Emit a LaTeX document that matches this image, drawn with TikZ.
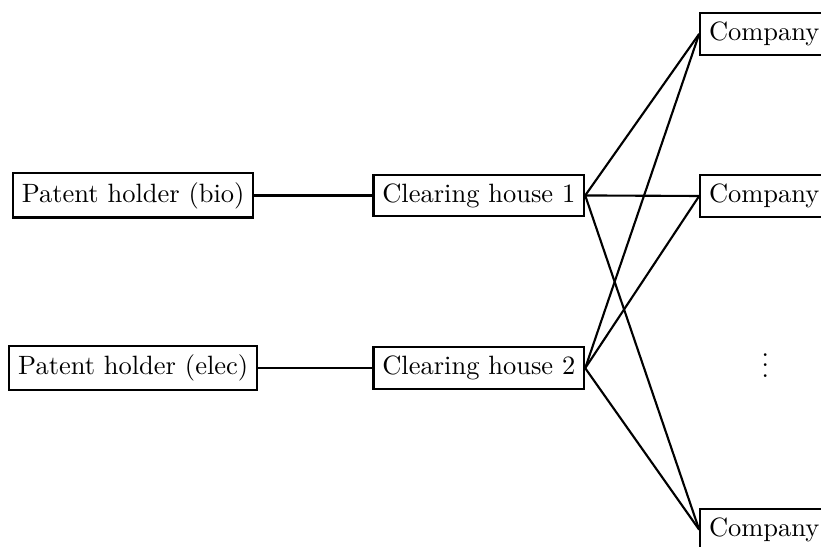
\documentclass[tikz,border=0pt]{standalone}
\usepackage{tikz}
\usetikzlibrary{positioning}
\usepackage{amsmath}

\begin{document}
\begin{tikzpicture}[x=1pt,y=1pt,
  box/.style={draw,thick},
  link/.style={thick}]
  \useasboundingbox (0,0) rectangle (310,-206.5);
  % patent holders and clearing houses
  \node[box] (bio) at (50.3,-73.8) {Patent holder (bio)};
  \node[box] (elec) at (50.3,-139) {Patent holder (elec)};
  \node[box] (ch1) at (180.8,-73.8) {Clearing house 1};
  \node[box] (ch2) at (180.8,-139) {Clearing house 2};
  % companies
  \node[box,anchor=west] (co1) at (264,-12.8) {Company};
  \node[box,anchor=west] (co2) at (264,-74) {Company};
  \node (dots) at (289,-135) {$\vdots$};
  \node[box,anchor=west] (co3) at (264,-200) {Company};
  \draw[link] (bio) -- (ch1);
  \draw[link] (elec) -- (ch2);
  \foreach \c in {co1,co2,co3}{
    \draw[link] (ch1.east) -- (\c.west);
    \draw[link] (ch2.east) -- (\c.west);
  }
\end{tikzpicture}
\end{document}
